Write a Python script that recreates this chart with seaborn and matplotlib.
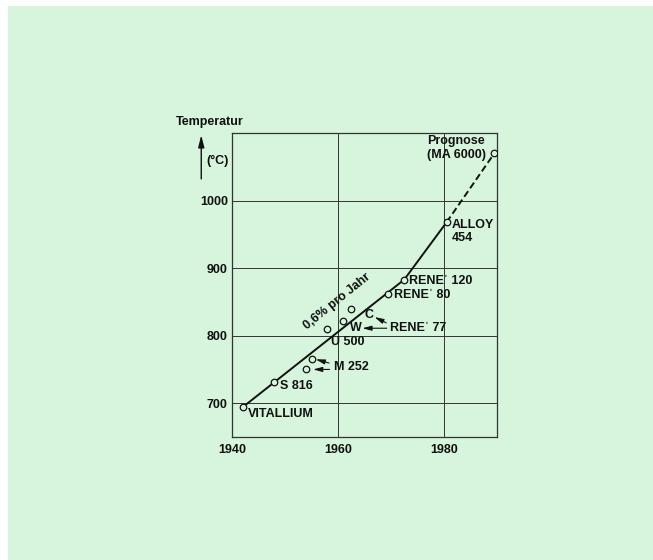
import matplotlib
matplotlib.use('Agg')
import matplotlib.pyplot as plt
import seaborn as sns
import pandas as pd
from matplotlib.patches import Rectangle

# alloy data points
alloys = ['VITALLIUM', 'S 816', 'M 252 a', 'M 252 b', 'U 500', 'W', 'C',
          "RENE 80", "RENE 120", 'ALLOY 454', 'MA 6000']
years = [1942, 1948, 1955, 1954, 1958, 1961, 1962.5, 1969.5, 1972.5, 1980.5, 1989.5]
temps = [694, 731, 766, 750, 810, 822, 840, 862, 883, 968, 1070]

# trend line (solid) and forecast (dashed)
trend_years = [1942, 1972.5, 1980.5]
trend_temps = [694, 883, 968]
prog_years = [1980.5, 1989.5]
prog_temps = [968, 1070]

x_ticks = [1940, 1960, 1980]
y_ticks = [700, 800, 900, 1000]

bg = '#d6f5dc'
sns.set_theme(style='white')
plt.rcParams['font.family'] = ['Liberation Sans', 'DejaVu Sans']
plt.rcParams['font.weight'] = 'bold'

fig = plt.figure(figsize=(6.53, 5.60), dpi=100, facecolor='white')
fig.patches.append(Rectangle((8 / 653, 0), 1, 1 - 6 / 560, transform=fig.transFigure,
                             facecolor=bg, edgecolor='none', zorder=-10))
ax = fig.add_axes([232 / 653, 1 - 437 / 560, (497 - 232) / 653, (437 - 133) / 560])
ax.set_facecolor(bg)

df_pts = pd.DataFrame({'alloy': alloys, 'year': years, 'temp': temps})
df_trend = pd.DataFrame({'year': trend_years, 'temp': trend_temps})
df_prog = pd.DataFrame({'year': prog_years, 'temp': prog_temps})

sns.lineplot(data=df_trend, x='year', y='temp', ax=ax, color='#111111', lw=1.4, zorder=3)
sns.lineplot(data=df_prog, x='year', y='temp', ax=ax, color='#111111', lw=1.4,
             zorder=3, linestyle=(0, (3.5, 1.8)))
sns.scatterplot(data=df_pts, x='year', y='temp', ax=ax, s=22, facecolor=bg,
                edgecolor='#111111', linewidth=0.9, zorder=4)

ax.set_xlim(1940, 1990)
ax.set_ylim(650, 1100)
ax.set_xticks(x_ticks)
ax.set_yticks(y_ticks)
ax.set_xticklabels([str(t) for t in x_ticks], fontsize=9, fontweight='bold')
ax.set_yticklabels([str(t) for t in y_ticks], fontsize=9, fontweight='bold')
ax.tick_params(axis='both', length=0, colors='#111111')
ax.tick_params(axis='x', pad=5)
ax.tick_params(axis='y', pad=3)
ax.grid(True, color='#333333', lw=0.7)
ax.set_axisbelow(True)
for sp in ax.spines.values():
    sp.set_color('#333333')
    sp.set_linewidth(0.9)
ax.set_xlabel('')
ax.set_ylabel('')

fs = 9
tk = dict(fontsize=fs, fontweight='bold', color='#111111', va='center', ha='left', zorder=5)
rene = 'RENE\u02C8 '
ax.text(1943, 684, 'VITALLIUM', **tk)
ax.text(1949, 726, 'S 816', **tk)
ax.text(1959.2, 753, 'M 252', **tk)
ax.text(1958.6, 790, 'U 500', **tk)
ax.text(1962.2, 811, 'W', **tk)
ax.text(1965, 831, 'C', **tk)
ax.text(1969.8, 811, rene + '77', **tk)
ax.text(1970.6, 860, rene + '80', **tk)
ax.text(1973.4, 881.5, rene + '120', **tk)
ax.text(1981.4, 954, 'ALLOY\n454', fontsize=fs, fontweight='bold', color='#111111',
        va='center', ha='left', linespacing=1.1)
ax.text(1976.8, 1078, 'Prognose\n(MA 6000)', fontsize=fs, fontweight='bold', color='#111111',
        va='center', ha='left', linespacing=1.2)
ax.text(1959.9, 851, '0,6% pro Jahr', fontsize=fs, fontweight='bold', color='#111111',
        rotation=39, rotation_mode='anchor', ha='center', va='center')

arr = dict(arrowstyle='-|>,head_length=0.45,head_width=0.12', color='#111111', lw=0.8,
           shrinkA=0, shrinkB=0)
ax.annotate('', xy=(1955.8, 765), xytext=(1958.3, 759.5), arrowprops=arr)
ax.annotate('', xy=(1955.3, 750), xytext=(1958.4, 750), arrowprops=arr)
ax.annotate('', xy=(1964.6, 811), xytext=(1969.2, 811), arrowprops=arr)
ax.annotate('', xy=(1966.9, 827.5), xytext=(1969.1, 819), arrowprops=arr)

# y-axis caption with upward arrow
ax.text(1935.8, 1116, 'Temperatur', fontsize=fs, fontweight='bold', color='#111111',
        ha='center', va='center', clip_on=False)
ax.text(1937.2, 1058, '(°C)', fontsize=fs, fontweight='bold', color='#111111',
        ha='center', va='center', clip_on=False)
ax.annotate('', xy=(1934.2, 1097), xytext=(1934.2, 1032), annotation_clip=False,
            arrowprops=dict(arrowstyle='-|>,head_length=0.6,head_width=0.15', color='#111111',
                            lw=1.0, shrinkA=0, shrinkB=0))

fig.savefig('out.png', dpi=100, facecolor=fig.get_facecolor())
